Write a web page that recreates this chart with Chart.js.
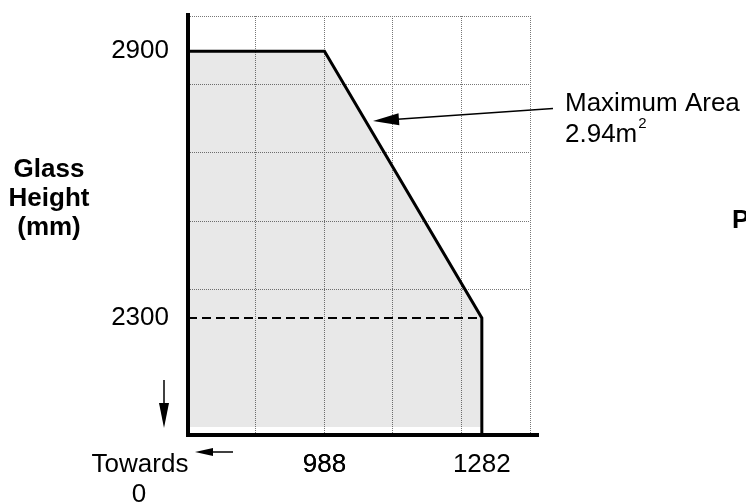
<!DOCTYPE html>
<html>
<head>
<meta charset="utf-8">
<script src="https://cdn.jsdelivr.net/npm/chart.js@4.4.1/dist/chart.umd.min.js"></script>
<style>
  html, body { margin: 0; padding: 0; background: #fff; }
  canvas { display: block; }
</style>
</head>
<body>
<canvas id="glassChart" width="746" height="503"></canvas>
<script>
// glass size envelope (mm) - axes are cut, "towards 0"
const widthPts   = [733, 988, 1282, 1282];
const heightPts  = [2900, 2900, 2300, 2037];
const dashWidth  = [733, 1282];
const dashHeight = [2300, 2300];

const xRange  = [733, 1372];
const yRange  = [2037, 2979];
const xGrid   = [860, 988, 1116, 1244, 1372];
const yGrid   = [2363, 2517, 2671, 2825, 2979];
const xLabels = [988, 1282];
const yLabels = [2300, 2900];
const fillFloor = 2055;

const FONT = '"Liberation Sans", Arial, sans-serif';

function toPoints(xs, ys) {
    return xs.map((x, i) => ({ x: x, y: ys[i] }));
}

function arrow(ctx, x1, y1, x2, y2, head, half, width) {
    const ang = Math.atan2(y2 - y1, x2 - x1);
    ctx.lineWidth = width;
    ctx.beginPath();
    ctx.moveTo(x1, y1);
    ctx.lineTo(x2 - Math.cos(ang) * head * 0.8, y2 - Math.sin(ang) * head * 0.8);
    ctx.stroke();
    ctx.save();
    ctx.translate(x2, y2);
    ctx.rotate(ang);
    ctx.beginPath();
    ctx.moveTo(0, 0);
    ctx.lineTo(-head, -half);
    ctx.lineTo(-head, half);
    ctx.closePath();
    ctx.fill();
    ctx.restore();
}

// axes, arrows and the loose text around the plot
const extras = {
    id: 'extras',
    afterDraw(chart) {
        const { ctx, chartArea: a } = chart;
        ctx.save();
        ctx.fillStyle = '#000';
        ctx.strokeStyle = '#000';

        ctx.lineWidth = 4;
        ctx.lineJoin = 'miter';
        ctx.beginPath();
        ctx.moveTo(a.left, a.top - 3);
        ctx.lineTo(a.left, a.bottom);
        ctx.lineTo(a.right + 9, a.bottom);
        ctx.stroke();

        arrow(ctx, 553, 108.5, 373, 121, 26, 6, 1.5);
        arrow(ctx, 164, 380, 164, 428, 25, 5, 1.5);
        arrow(ctx, 233, 452, 195, 452, 18, 4, 1.5);

        ctx.textBaseline = 'alphabetic';
        ctx.font = 'bold 26px ' + FONT;
        ctx.textAlign = 'center';
        ctx.fillText('Glass', 49, 177);
        ctx.fillText('Height', 49, 206);
        ctx.fillText('(mm)', 49, 235);

        ctx.textAlign = 'left';
        ctx.fillText('P', 732, 228);

        ctx.font = '26px ' + FONT;
        ctx.fillText('Maximum Area', 565, 111);
        ctx.fillText('2.94m', 565, 142);
        const w = ctx.measureText('2.94m').width;
        ctx.font = '15px ' + FONT;
        ctx.fillText('2', 565 + w + 1, 128);

        ctx.font = '26px ' + FONT;
        ctx.textAlign = 'center';
        ctx.fillText('Towards', 140, 472);
        ctx.fillText('0', 139, 502);
        ctx.restore();
    }
};

const gridColor = (list) => (c) => list.includes(c.tick && c.tick.value) ? '#777' : 'rgba(0,0,0,0)';

new Chart(document.getElementById('glassChart'), {
    type: 'line',
    data: {
        datasets: [
            {
                // dashed 2300 line, kept on top of the fill
                data: toPoints(dashWidth, dashHeight),
                order: 0,
                borderColor: '#000',
                borderWidth: 2,
                borderDash: [9, 5],
                fill: false,
                pointRadius: 0,
                tension: 0
            },
            {
                data: toPoints(widthPts, heightPts),
                order: 1,
                borderColor: '#000',
                borderWidth: 3,
                backgroundColor: 'rgba(0,0,0,0.09)',
                fill: { value: fillFloor },
                pointRadius: 0,
                tension: 0
            }
        ]
    },
    options: {
        responsive: false,
        animation: false,
        devicePixelRatio: 1,
        layout: {
            padding: { left: 0, right: 216, top: 16, bottom: 0 }
        },
        plugins: {
            legend: { display: false },
            tooltip: { enabled: false }
        },
        scales: {
            x: {
                type: 'linear',
                min: xRange[0],
                max: xRange[1],
                afterFit: s => { s.height = 68; s.paddingLeft = 0; s.paddingRight = 0; },
                afterBuildTicks: s => {
                    s.ticks = [...xGrid, ...xLabels].sort((p, q) => p - q).map(v => ({ value: v }));
                },
                grid: {
                    color: gridColor(xGrid),
                    lineWidth: 1,
                    drawTicks: false
                },
                border: { display: false, dash: [1, 1] },
                ticks: {
                    autoSkip: false,
                    maxRotation: 0,
                    padding: 14,
                    color: '#000',
                    font: { family: FONT, size: 26 },
                    callback: v => xLabels.includes(v) ? String(v) : ''
                }
            },
            y: {
                type: 'linear',
                min: yRange[0],
                max: yRange[1],
                afterFit: s => { s.width = 188; s.paddingTop = 0; s.paddingBottom = 0; },
                afterBuildTicks: s => {
                    s.ticks = [...yGrid, ...yLabels].sort((p, q) => p - q).map(v => ({ value: v }));
                },
                grid: {
                    color: gridColor(yGrid),
                    lineWidth: 1,
                    drawTicks: false
                },
                border: { display: false, dash: [1, 1] },
                ticks: {
                    autoSkip: false,
                    padding: 19,
                    color: '#000',
                    font: { family: FONT, size: 26 },
                    callback: v => yLabels.includes(v) ? String(v) : ''
                }
            }
        }
    },
    plugins: [extras]
});
</script>
</body>
</html>
